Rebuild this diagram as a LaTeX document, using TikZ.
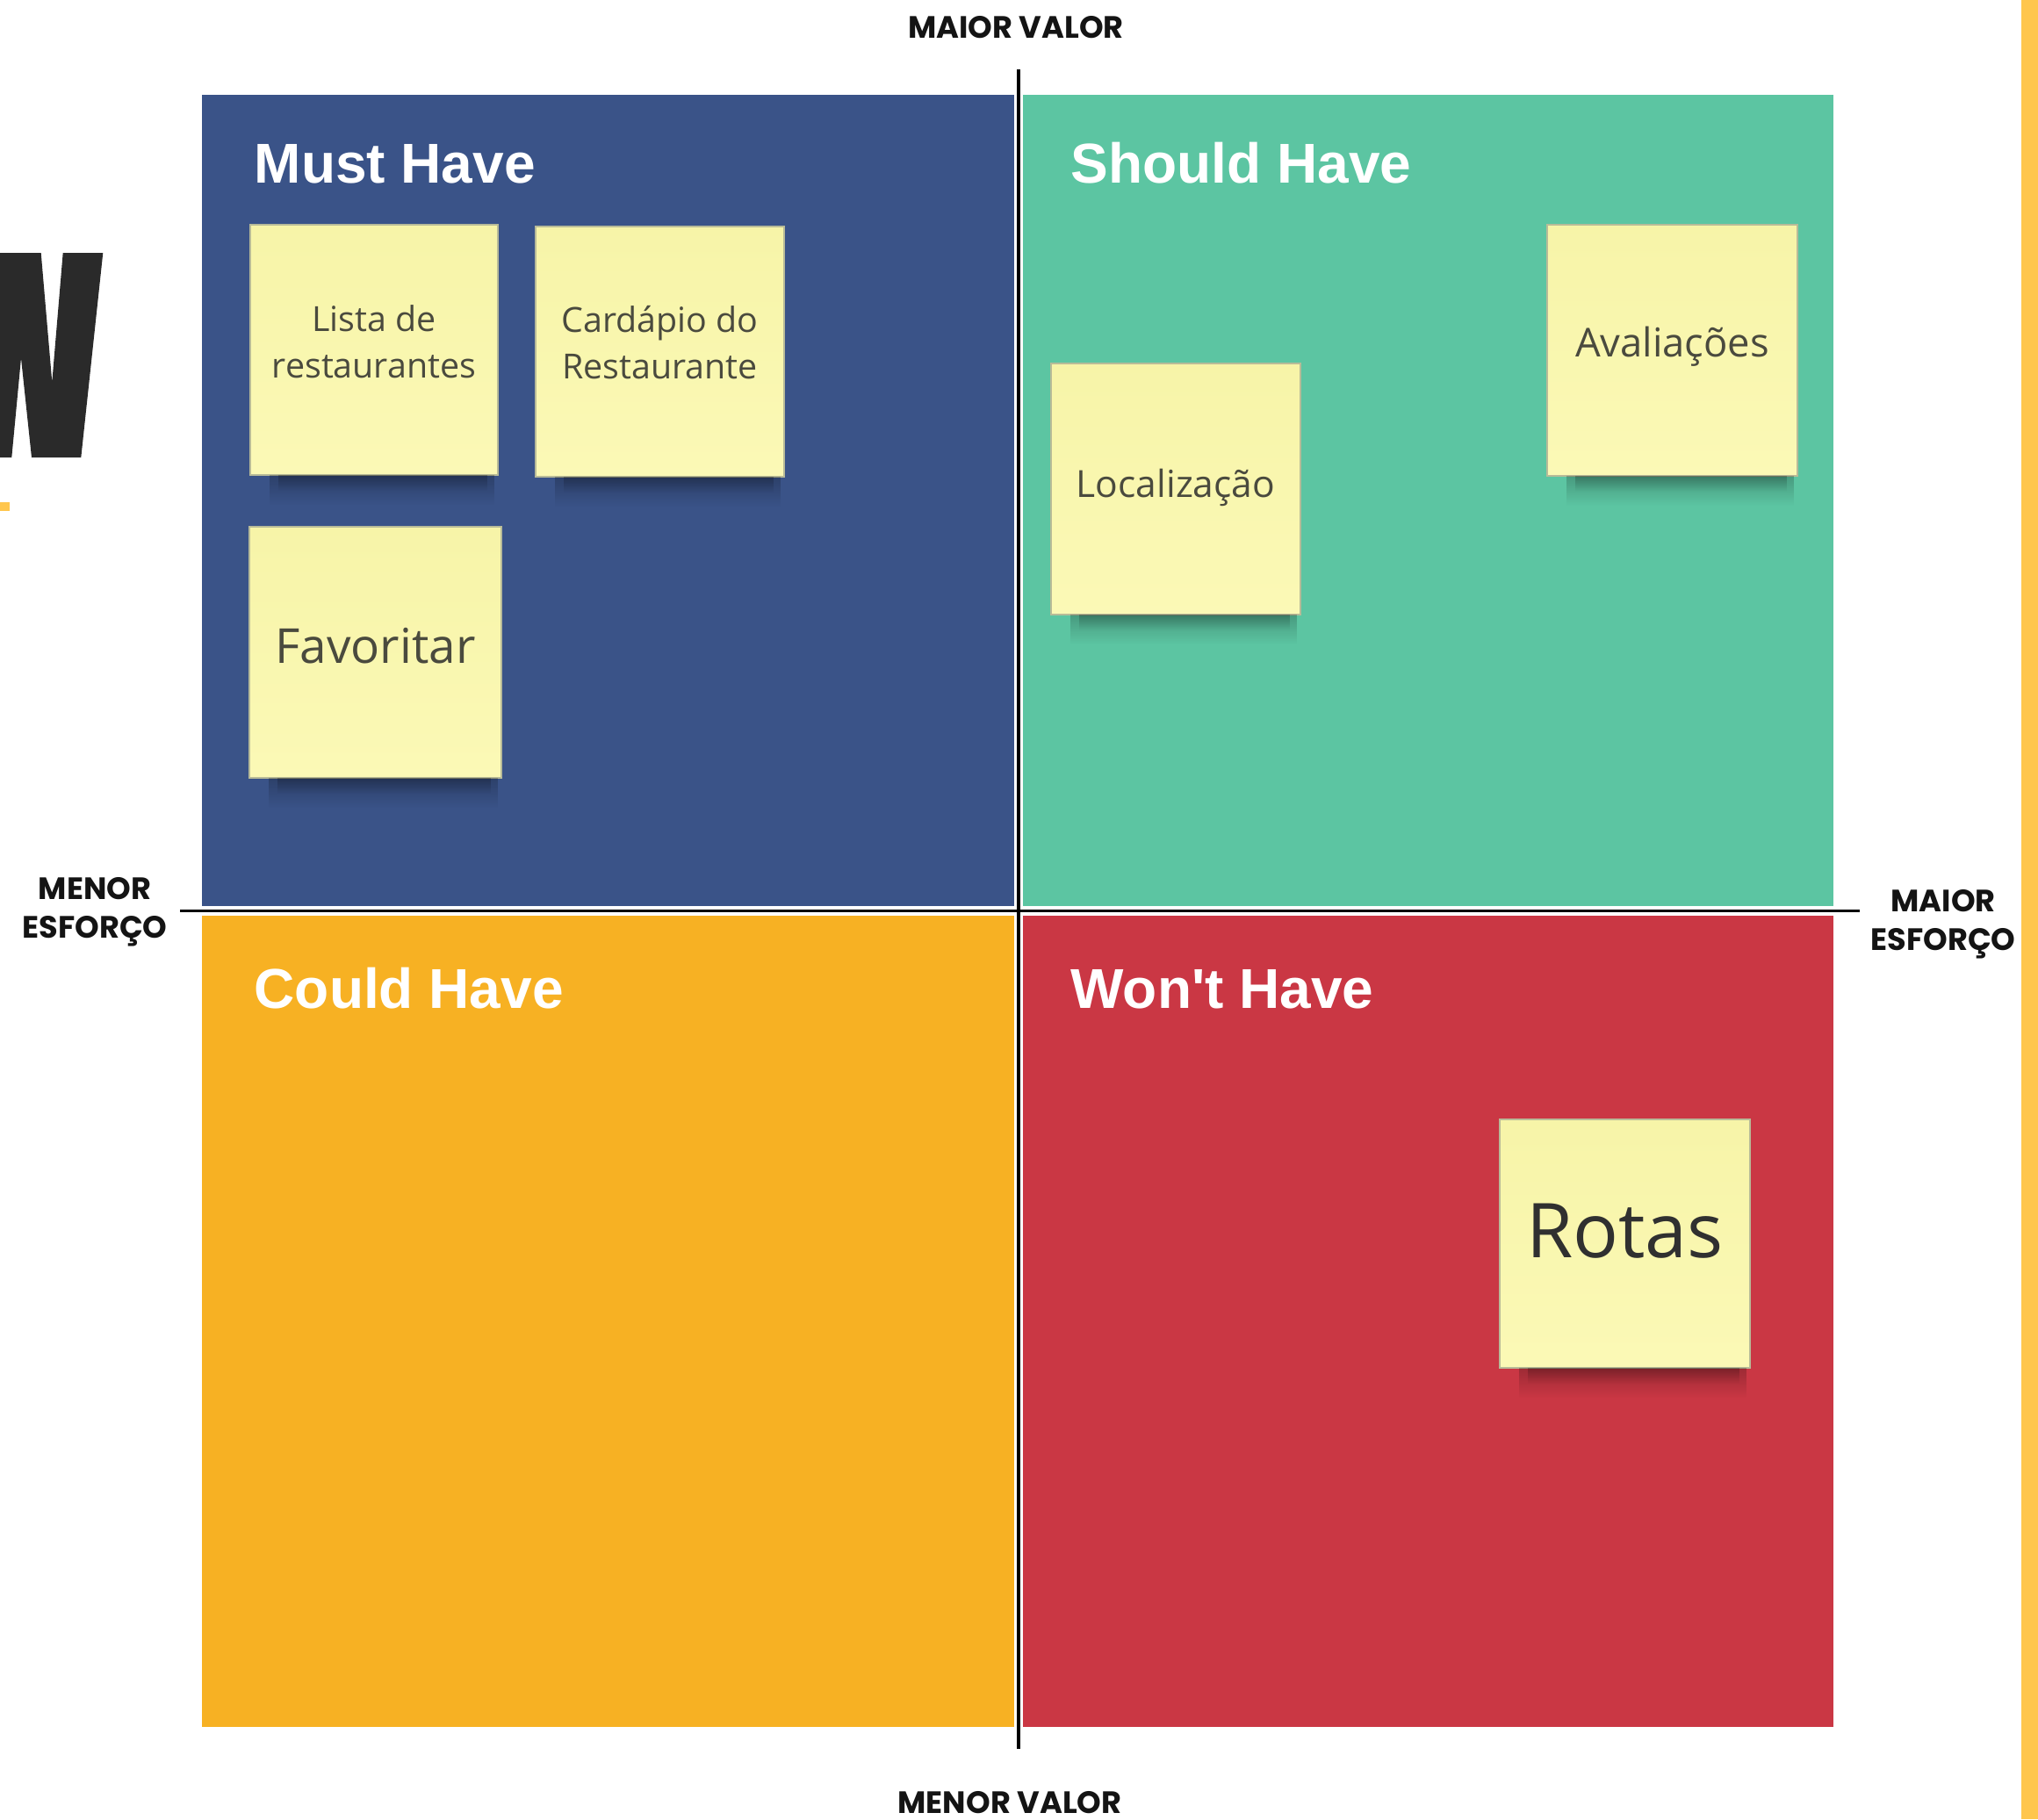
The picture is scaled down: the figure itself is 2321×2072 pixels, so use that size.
\documentclass[tikz,border=0pt]{standalone}
\usepackage{fontspec}
\newfontfamily\notefont{Open Sans}
\newfontfamily\titlefont{Liberation Sans}[Ligatures=TeXOff]
\newfontfamily\axisfont{Poppins}
\usetikzlibrary{fadings}
\definecolor{qblue}{HTML}{3A5388}
\definecolor{qgreen}{HTML}{5CC5A2}
\definecolor{qorange}{HTML}{F7B123}
\definecolor{qred}{HTML}{CA3744}
\definecolor{notetop}{HTML}{F7F4A8}
\definecolor{notebot}{HTML}{FBF9B6}
\definecolor{noteedge}{HTML}{B8BB98}
\definecolor{notetxt}{HTML}{4A4A3E}
\definecolor{notetxtdark}{HTML}{303030}
\definecolor{wdark}{HTML}{2A2A2A}
\definecolor{barY}{HTML}{FFC64D}
\begin{document}
\begin{tikzpicture}[x=0.01cm,y=-0.01cm,
  quadtitle/.style={text=white, font=\titlefont\bfseries\fontsize{18.2}{22}\selectfont, anchor=base west, inner sep=0pt},
  axislabel/.style={font=\axisfont\bfseries\fontsize{10}{12}\selectfont, text=black!92, anchor=base, inner sep=0pt},
  note/.style={minimum width=2.84cm, minimum height=2.85cm, inner sep=0pt, outer sep=0pt, top color=notetop, bottom color=notebot, draw=noteedge, line width=0.02cm},
  notetext/.style={font=\notefont, text=notetxt, align=center, inner sep=0pt},
  notesh/.style={fill=black, opacity=0.22, path fading=south},
  axisline/.style={draw=black, line width=0.038cm}
]
\useasboundingbox (0,0) rectangle (2321,2072);
\fill[white] (0,0) rectangle (2321,2072);

% decorative pieces at the edges
\fill[wdark] (0,288) -- (46.7,288) -- (59.3,435) -- (71.7,288) -- (117.3,288) -- (92.3,521) -- (36,521) -- (24,408) -- (13.3,521) -- (0,521) -- cycle;
\fill[barY] (0,572) rectangle (11,582);
\fill[barY] (2302,0) rectangle (2321,2072);

% quadrants
\fill[qblue]   (230,108)  rectangle (1155,1032);
\fill[qgreen]  (1165,108) rectangle (2088,1032);
\fill[qorange] (230,1043) rectangle (1155,1967);
\fill[qred]    (1165,1043) rectangle (2088,1967);

% axes
\coordinate (vTop) at (1160,79);
\coordinate (vBot) at (1160,1992);
\coordinate (hL) at (205,1037.5);
\coordinate (hR) at (2118,1037.5);
\draw[axisline] (vTop) -- (vBot);
\draw[axisline, line width=0.034cm] (hL) -- (hR);

% titles
\node[quadtitle] (tMust)   at (289,208)  {Must Have};
\node[quadtitle] (tShould) at (1219,208) {Should Have};
\node[quadtitle] (tCould)  at (289,1148) {Could Have};
\node[quadtitle] (tWont)   at (1219,1148) {Won't Have};

% axis labels
\node[axislabel] (lTop) at (1157,43)   {MAIOR VALOR};
\node[axislabel] (lBot) at (1150,2065) {MENOR VALOR};
\node[axislabel] (lL1)  at (108,1024)  {MENOR};
\node[axislabel] (lL2)  at (108,1068)  {ESFORÇO};
\node[axislabel] (lR1)  at (2213,1038) {MAIOR};
\node[axislabel] (lR2)  at (2213,1082) {ESFORÇO};

% sticky notes
\node[note, minimum width=2.82cm] (n1) at (426,398.5) {};
\node[note, minimum width=2.83cm] (n2) at (751.5,400.5) {};
\node[note, minimum width=2.87cm, minimum height=2.86cm] (n3) at (427.5,743) {};
\node[note] (n4) at (1339,557) {};
\node[note] (n5) at (1904.5,399) {};
\node[note, minimum width=2.85cm, minimum height=2.83cm] (n6) at (1850.5,1416.5) {};

\foreach \n in {n1,n2,n3,n4,n5,n6}{
  \fill[notesh] ([xshift=0.22cm]\n.south west) rectangle ([xshift=-0.04cm,yshift=-0.34cm]\n.south east);
  \fill[notesh] ([xshift=0.32cm]\n.south west) rectangle ([xshift=-0.12cm,yshift=-0.18cm]\n.south east);
}

\node[notetext, font=\notefont\fontsize{11.2}{15.1}\selectfont] (x1) at ([yshift=0.09cm]n1.center) {Lista de\\restaurantes};
\node[notetext, font=\notefont\fontsize{11.2}{15.1}\selectfont] (x2) at ([yshift=0.105cm]n2.center) {Cardápio do\\Restaurante};
\node[notetext, font=\notefont\fontsize{15.6}{18}\selectfont] (x3) at ([yshift=0.07cm]n3.center) {Favoritar};
\node[notetext, font=\notefont\fontsize{12.1}{15}\selectfont] (x4) at ([yshift=0.015cm]n4.center) {Localização};
\node[notetext, font=\notefont\fontsize{12.9}{15}\selectfont] (x5) at ([yshift=0.04cm]n5.center) {Avaliações};
\node[notetext, text=notetxtdark, font=\notefont\fontsize{24.5}{28}\selectfont] (x6) at ([yshift=0.14cm]n6.center) {Rotas};
\end{tikzpicture}
\end{document}
